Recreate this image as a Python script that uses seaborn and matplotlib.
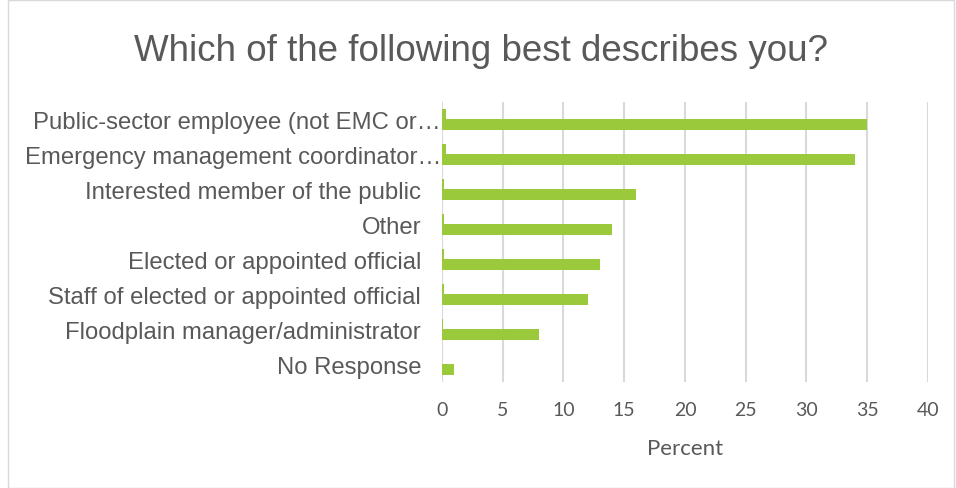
import matplotlib
matplotlib.use("Agg")
import matplotlib.pyplot as plt
import seaborn as sns
import pandas as pd
from matplotlib.patches import Rectangle

categories = [
    "Public-sector employee (not EMC or…",
    "Emergency management coordinator…",
    "Interested member of the public",
    "Other",
    "Elected or appointed official",
    "Staff of elected or appointed official",
    "Floodplain manager/administrator",
    "No Response",
]
series_small = [0.35, 0.35, 0.2, 0.15, 0.15, 0.15, 0.05, 0.0]
series_main = [35, 34, 16, 14, 13, 12, 8, 1]
series_names = ["Series A", "Series B"]
x_ticks = [0, 5, 10, 15, 20, 25, 30, 35, 40]

df = pd.DataFrame({
    "Category": categories * 2,
    "Percent": series_small + series_main,
    "Series": [series_names[0]] * len(categories) + [series_names[1]] * len(categories),
})

sns.set_theme(style="white")
plt.rcParams["font.family"] = ["Liberation Sans", "DejaVu Sans"]

fig = plt.figure(figsize=(9.56, 4.89), dpi=100)
ax = fig.add_axes([0.4623, 0.2168, 0.5084, 0.5726])

green = "#9ACA3C"
sns.barplot(data=df, y="Category", x="Percent", hue="Series", order=categories,
            palette=[green, green], width=0.6, orient="h", ax=ax,
            legend=False, saturation=1, edgecolor="none")

ax.set_xlim(0, 40)
ax.set_xticks(x_ticks)
ax.set_xticklabels([str(t) for t in x_ticks], family=["Lato", "DejaVu Sans"],
                   fontsize=14, color="#595959")
ax.xaxis.grid(True, color="#d9d9d9", linewidth=1.5)
ax.yaxis.grid(False)
ax.set_axisbelow(True)
for s in ax.spines.values():
    s.set_visible(False)
ax.tick_params(axis="y", length=0, pad=15, labelsize=17.2, labelcolor="#595959")
ax.tick_params(axis="x", length=0, pad=14)
ax.set_ylabel("")
ax.set_xlabel("Percent", family=["Lato", "DejaVu Sans"], fontsize=16,
              color="#595959", labelpad=14)

# truncated labels overflow toward the axis, as in the reference
for lbl in ax.get_yticklabels():
    if lbl.get_text().endswith("…"):
        lbl.set_x(0.041)

fig.text(0.503, 0.895, "Which of the following best describes you?",
         ha="center", va="center", fontsize=26.5, color="#595959")

fig.patches.append(Rectangle((0.008, 0.0), 0.99, 0.997, transform=fig.transFigure,
                             fill=False, edgecolor="#d9d9d9", linewidth=1))

fig.savefig("out.png", dpi=100)
